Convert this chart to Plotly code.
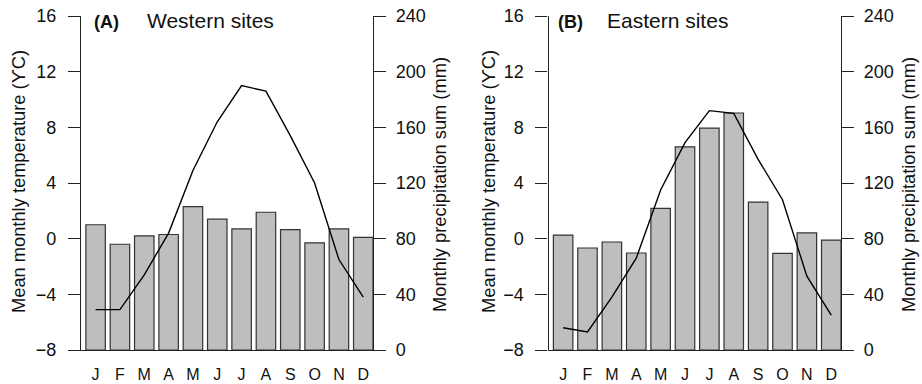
import plotly.graph_objects as go

months = ["J", "F", "M", "A", "M", "J", "J", "A", "S", "O", "N", "D"]
west_precip = [90, 76, 82, 83, 103, 94, 87, 99, 86.5, 77, 87, 81]
west_temp = [-5.1, -5.1, -2.6, 0.4, 4.9, 8.4, 11.0, 10.6, 7.4, 4.0, -1.5, -4.2]
east_precip = [82.6, 73.3, 77.6, 69.7, 101.8, 146, 159.5, 170.3, 106.3, 69.5, 84.1, 79]
east_temp = [-6.4, -6.7, -4.2, -1.4, 3.5, 6.9, 9.2, 9.0, 5.7, 2.8, -2.7, -5.5]
temp_ticks = [-8, -4, 0, 4, 8, 12, 16]
precip_ticks = [0, 40, 80, 120, 160, 200, 240]

xs = list(range(len(months)))
FONT = "Liberation Sans, Arial, sans-serif"
AX = "#222222"
TXT = "#111111"

fig = go.Figure()
# Panel A
fig.add_trace(go.Bar(x=xs, y=west_precip, xaxis="x", yaxis="y", width=0.8,
                     marker=dict(color="#bebebe", line=dict(color="#333333", width=1.2)),
                     showlegend=False))
fig.add_trace(go.Scatter(x=xs, y=west_temp, xaxis="x", yaxis="y2", mode="lines",
                         line=dict(color="black", width=1.4), showlegend=False))
# Panel B
fig.add_trace(go.Bar(x=xs, y=east_precip, xaxis="x2", yaxis="y3", width=0.8,
                     marker=dict(color="#bebebe", line=dict(color="#333333", width=1.2)),
                     showlegend=False))
fig.add_trace(go.Scatter(x=xs, y=east_temp, xaxis="x2", yaxis="y4", mode="lines",
                         line=dict(color="black", width=1.4), showlegend=False))

ydom = [1 - 350 / 384, 1 - 16 / 384]
xdomA = [81 / 922, 373 / 922]
xdomB = [548.5 / 922, 841 / 922]


def xax(dom, anchor):
    return dict(domain=dom, anchor=anchor, range=[-0.6, 11.4], showgrid=False, zeroline=False,
                showline=True, linecolor=AX, linewidth=1.3, ticks="",
                tickmode="array", tickvals=xs, ticktext=months,
                tickfont=dict(family=FONT, size=16, color=TXT), ticklabelstandoff=10,
                fixedrange=True, automargin=False)


def precip_ax(anchor):
    return dict(domain=ydom, anchor=anchor, side="right", range=[0, 240], showgrid=False,
                zeroline=False, showline=True, linecolor=AX, linewidth=1.3,
                ticks="outside", ticklen=12, tickwidth=1.3, tickcolor=AX,
                tickmode="array", tickvals=precip_ticks, automargin=False,
                tickfont=dict(family=FONT, size=18, color=TXT), ticklabelstandoff=6)


def temp_ax(anchor, over):
    return dict(domain=ydom, anchor=anchor, side="left", overlaying=over, range=[-8, 16],
                showgrid=False, zeroline=False, showline=True, linecolor=AX, linewidth=1.3,
                ticks="outside", ticklen=12, tickwidth=1.3, tickcolor=AX,
                tickmode="array", tickvals=temp_ticks, automargin=False,
                tickfont=dict(family=FONT, size=18, color=TXT), ticklabelstandoff=8)


fig.update_layout(
    width=922, height=384,
    margin=dict(l=0, r=0, t=0, b=0, pad=0, autoexpand=False),
    paper_bgcolor="white", plot_bgcolor="white",
    xaxis=xax(xdomA, "y"),
    yaxis=precip_ax("x"),
    yaxis2=temp_ax("x", "y"),
    xaxis2=xax(xdomB, "y3"),
    yaxis3=precip_ax("x2"),
    yaxis4=temp_ax("x2", "y3"),
    bargap=0.2,
)

anns = []
for (bold_x, txt_x, lab, name, lt_x, rt_x) in [
    (92, 145, "(A)", "Western sites", 19, 440),
    (556, 605, "(B)", "Eastern sites", 489, 909),
]:
    anns.append(dict(x=bold_x / 922, y=1 - 22 / 384, xref="paper", yref="paper", xanchor="left",
                     yanchor="middle", text="<b>" + lab + "</b>", showarrow=False,
                     font=dict(family=FONT, size=18, color=TXT)))
    anns.append(dict(x=txt_x / 922, y=1 - 20 / 384, xref="paper", yref="paper", xanchor="left",
                     yanchor="middle", text=name, showarrow=False,
                     font=dict(family=FONT, size=21, color=TXT)))
    anns.append(dict(x=lt_x / 922, y=1 - 182 / 384, xref="paper", yref="paper", xanchor="center",
                     yanchor="middle", text="Mean monthly temperature (\u03d2C)", textangle=-90,
                     showarrow=False, font=dict(family=FONT, size=18.3, color=TXT)))
    anns.append(dict(x=rt_x / 922, y=1 - 185 / 384, xref="paper", yref="paper", xanchor="center",
                     yanchor="middle", text="Monthly precipitation sum (mm)", textangle=-90,
                     showarrow=False, font=dict(family=FONT, size=18.3, color=TXT)))
fig.update_layout(annotations=anns)

fig.write_html("out.html", config={"displayModeBar": False},
               post_script="document.body.style.margin='0px';")
